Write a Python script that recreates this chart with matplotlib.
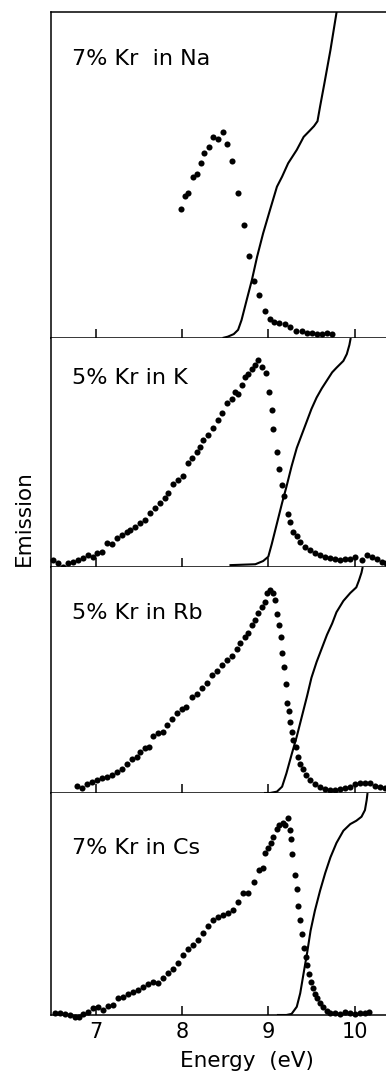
import matplotlib
matplotlib.use("Agg")
import matplotlib.pyplot as plt

# Kr emission (dots) and absorption-edge trace (line), per host metal
na_energy = [7.99, 8.035, 8.073, 8.124, 8.170, 8.220, 8.258, 8.313, 8.363, 8.421, 8.472, 8.525,
             8.579, 8.645, 8.718, 8.773, 8.838, 8.896, 8.958, 9.020, 9.070, 9.124, 9.194, 9.251,
             9.321, 9.387, 9.445, 9.503, 9.561, 9.619, 9.677, 9.735]
na_emission = [0.395, 0.436, 0.446, 0.495, 0.503, 0.538, 0.568, 0.587, 0.617, 0.609, 0.631, 0.595,
               0.542, 0.446, 0.348, 0.252, 0.176, 0.131, 0.082, 0.057, 0.049, 0.045, 0.043, 0.033,
               0.022, 0.021, 0.016, 0.014, 0.012, 0.012, 0.014, 0.012]
na_line_energy = [8.47, 8.53, 8.60, 8.65, 8.69, 8.75, 8.81, 8.87, 8.94, 9.02, 9.10, 9.16, 9.23,
                  9.33, 9.41, 9.48, 9.53, 9.57, 9.60, 9.65, 9.72, 9.81]
na_line_value = [0.0, 0.004, 0.012, 0.025, 0.055, 0.117, 0.178, 0.249, 0.321, 0.393, 0.464, 0.495,
                 0.536, 0.577, 0.617, 0.636, 0.650, 0.665, 0.710, 0.781, 0.883, 1.03]

k_energy = [6.509, 6.567, 6.625, 6.682, 6.740, 6.798, 6.856, 6.914, 6.972, 7.012, 7.070, 7.127,
            7.185, 7.243, 7.301, 7.359, 7.397, 7.455, 7.513, 7.571, 7.629, 7.687, 7.745, 7.803,
            7.841, 7.899, 7.957, 8.015, 8.073, 8.112, 8.170, 8.209, 8.247, 8.305, 8.363, 8.421,
            8.460, 8.518, 8.576, 8.615, 8.652, 8.692, 8.730, 8.768, 8.808, 8.846, 8.884, 8.923,
            8.973, 9.012, 9.039, 9.058, 9.097, 9.127, 9.155, 9.185, 9.225, 9.251, 9.290, 9.329,
            9.367, 9.425, 9.483, 9.541, 9.599, 9.657, 9.715, 9.773, 9.831, 9.889, 9.947, 10.004,
            10.082, 10.140, 10.198, 10.256, 10.314, 10.364]
k_emission = [0.031, 0.016, 0.000, 0.019, 0.023, 0.031, 0.038, 0.052, 0.045, 0.062, 0.067, 0.103,
              0.100, 0.125, 0.140, 0.154, 0.162, 0.176, 0.191, 0.205, 0.234, 0.256, 0.278, 0.300,
              0.322, 0.362, 0.380, 0.397, 0.453, 0.475, 0.503, 0.525, 0.555, 0.576, 0.606, 0.642,
              0.671, 0.715, 0.735, 0.766, 0.755, 0.795, 0.831, 0.843, 0.863, 0.882, 0.904, 0.875,
              0.848, 0.766, 0.686, 0.604, 0.503, 0.427, 0.357, 0.310, 0.231, 0.198, 0.154, 0.135,
              0.110, 0.089, 0.074, 0.062, 0.052, 0.042, 0.038, 0.034, 0.031, 0.034, 0.034, 0.042,
              0.031, 0.052, 0.045, 0.034, 0.023, 0.016]
k_line_energy = [8.55, 8.85, 8.94, 9.00, 9.04, 9.10, 9.16, 9.21, 9.27, 9.33, 9.39, 9.45, 9.50,
                 9.56, 9.62, 9.68, 9.74, 9.79, 9.87, 9.91, 9.94, 9.955]
k_line_value = [0.008, 0.012, 0.026, 0.045, 0.10, 0.19, 0.28, 0.35, 0.44, 0.52, 0.58, 0.64, 0.69,
                0.74, 0.78, 0.815, 0.85, 0.87, 0.90, 0.93, 0.97, 1.0]

rb_energy = [6.780, 6.838, 6.896, 6.954, 7.012, 7.070, 7.127, 7.185, 7.243, 7.301, 7.359, 7.417,
             7.475, 7.513, 7.571, 7.621, 7.667, 7.725, 7.776, 7.823, 7.881, 7.939, 7.997, 8.046,
             8.112, 8.170, 8.228, 8.286, 8.344, 8.402, 8.460, 8.518, 8.576, 8.634, 8.672, 8.730,
             8.768, 8.808, 8.846, 8.884, 8.923, 8.962, 8.988, 9.020, 9.051, 9.078, 9.104, 9.124,
             9.144, 9.162, 9.182, 9.202, 9.220, 9.236, 9.255, 9.275, 9.290, 9.317, 9.341, 9.367,
             9.399, 9.437, 9.483, 9.541, 9.599, 9.657, 9.715, 9.773, 9.831, 9.889, 9.947, 10.004,
             10.062, 10.120, 10.178, 10.236, 10.294, 10.352]
rb_emission = [0.031, 0.021, 0.040, 0.050, 0.058, 0.065, 0.072, 0.080, 0.094, 0.105, 0.128, 0.149,
               0.161, 0.183, 0.198, 0.205, 0.252, 0.264, 0.271, 0.301, 0.326, 0.355, 0.370, 0.382,
               0.426, 0.438, 0.463, 0.485, 0.522, 0.541, 0.566, 0.588, 0.607, 0.636, 0.664, 0.689,
               0.709, 0.743, 0.765, 0.795, 0.824, 0.846, 0.884, 0.898, 0.884, 0.854, 0.792, 0.743,
               0.689, 0.618, 0.556, 0.481, 0.400, 0.364, 0.313, 0.271, 0.235, 0.202, 0.161, 0.128,
               0.105, 0.080, 0.058, 0.040, 0.028, 0.016, 0.013, 0.013, 0.016, 0.022, 0.028, 0.038,
               0.043, 0.046, 0.043, 0.031, 0.025, 0.021]
rb_line_energy = [8.95, 9.02, 9.10, 9.16, 9.21, 9.27, 9.33, 9.39, 9.45, 9.50, 9.56, 9.62, 9.68,
                  9.74, 9.79, 9.87, 9.95, 10.02, 10.05, 10.08, 10.094]
rb_line_value = [0.0, 0.0, 0.006, 0.028, 0.087, 0.17, 0.25, 0.34, 0.43, 0.51, 0.58, 0.64, 0.70,
                 0.75, 0.80, 0.85, 0.885, 0.91, 0.94, 0.975, 1.0]

cs_energy = [6.528, 6.586, 6.644, 6.702, 6.760, 6.810, 6.856, 6.914, 6.972, 7.030,
             7.088, 7.146, 7.204, 7.262, 7.320, 7.378, 7.436, 7.494, 7.552, 7.610,
             7.667, 7.725, 7.783, 7.841, 7.899, 7.957, 8.015, 8.073, 8.131, 8.189,
             8.247, 8.305, 8.363, 8.421, 8.479, 8.536, 8.594, 8.652, 8.703, 8.768,
             8.838, 8.896, 8.935, 8.962, 9.000, 9.028, 9.058, 9.097, 9.127, 9.167,
             9.194, 9.232, 9.251, 9.263, 9.278, 9.309, 9.329, 9.348, 9.367, 9.387,
             9.414, 9.433, 9.452, 9.472, 9.491, 9.514, 9.541, 9.568, 9.599, 9.637,
             9.677, 9.715, 9.773, 9.831, 9.889, 9.947, 10.004, 10.062, 10.120, 10.170]
cs_emission = [0.010, 0.008, 0.005, 0.0, -0.008, -0.010, 0.005, 0.015, 0.030, 0.037,
               0.023, 0.041, 0.045, 0.075, 0.082, 0.095, 0.105, 0.113, 0.127, 0.140,
               0.150, 0.145, 0.165, 0.188, 0.206, 0.233, 0.270, 0.296, 0.315, 0.338,
               0.371, 0.401, 0.428, 0.443, 0.450, 0.458, 0.473, 0.508, 0.548, 0.548,
               0.600, 0.653, 0.661, 0.731, 0.751, 0.773, 0.803, 0.836, 0.856, 0.863,
               0.856, 0.886, 0.833, 0.791, 0.725, 0.631, 0.566, 0.491, 0.428, 0.365,
               0.300, 0.263, 0.225, 0.185, 0.150, 0.120, 0.095, 0.075, 0.053, 0.035,
               0.019, 0.010, 0.010, 0.005, 0.015, 0.010, 0.005, 0.008, 0.010, 0.014]
cs_line_energy = [9.10, 9.21, 9.27, 9.33, 9.37, 9.41, 9.45, 9.49, 9.54, 9.60, 9.66, 9.72, 9.79,
                  9.87, 9.95, 10.02, 10.08, 10.12, 10.14, 10.15]
cs_line_value = [0.0, 0.0, 0.005, 0.037, 0.098, 0.19, 0.28, 0.38, 0.47, 0.56, 0.64, 0.71, 0.775,
                 0.83, 0.86, 0.875, 0.893, 0.923, 0.968, 1.0]

labels = ["7% Kr  in Na", "5% Kr in K", "5% Kr in Rb", "7% Kr in Cs"]
label_y = [0.856, 0.825, 0.796, 0.752]
ticks = [7, 8, 9, 10]

panels = [
    (na_energy, na_emission, na_line_energy, na_line_value),
    (k_energy, k_emission, k_line_energy, k_line_value),
    (rb_energy, rb_emission, rb_line_energy, rb_line_value),
    (cs_energy, cs_emission, cs_line_energy, cs_line_value),
]

W, H = 386, 1073
fig = plt.figure(figsize=(W / 100, H / 100), dpi=100)

# panel edges in pixels (top, bottom), axes run to right edge of the page
edges = [(12, 338), (338, 567), (567, 793), (793, 1015)]
left_px = 51

for i, (ex, ey, lx, ly) in enumerate(panels):
    top, bot = edges[i]
    ax = fig.add_axes([left_px / W, 1 - bot / H, 1 - left_px / W, (bot - top) / H])
    ax.plot(lx, ly, color="black", lw=1.5, solid_capstyle="butt")
    ax.plot(ex, ey, "o", color="black", ms=4.4, mec="none", clip_on=False)
    ax.set_xlim(6.482, 10.364)
    ax.set_ylim(0, 1)
    ax.set_yticks([])
    ax.set_xticks(ticks)
    ax.tick_params(axis="x", direction="in", length=6.5, width=1.1, top=False)
    ax.spines["right"].set_visible(False)
    if i > 0:
        ax.spines["top"].set_visible(False)
    for s in ax.spines.values():
        s.set_linewidth(1.1)
    if i < 3:
        ax.set_xticklabels([])
    else:
        ax.set_xticklabels([str(t) for t in ticks], fontsize=15)
        ax.tick_params(axis="x", pad=5)
        ax.set_xlabel("Energy  (eV)", fontsize=15.5)
        ax.xaxis.set_label_coords(0.585, -0.16)
    ax.text(0.063, label_y[i], labels[i], transform=ax.transAxes,
            fontsize=16, va="center", ha="left")

fig.text(24 / W, 1 - 518 / H, "Emission", rotation=90, fontsize=15.5,
         va="center", ha="center")

fig.savefig("out.png", dpi=100)
